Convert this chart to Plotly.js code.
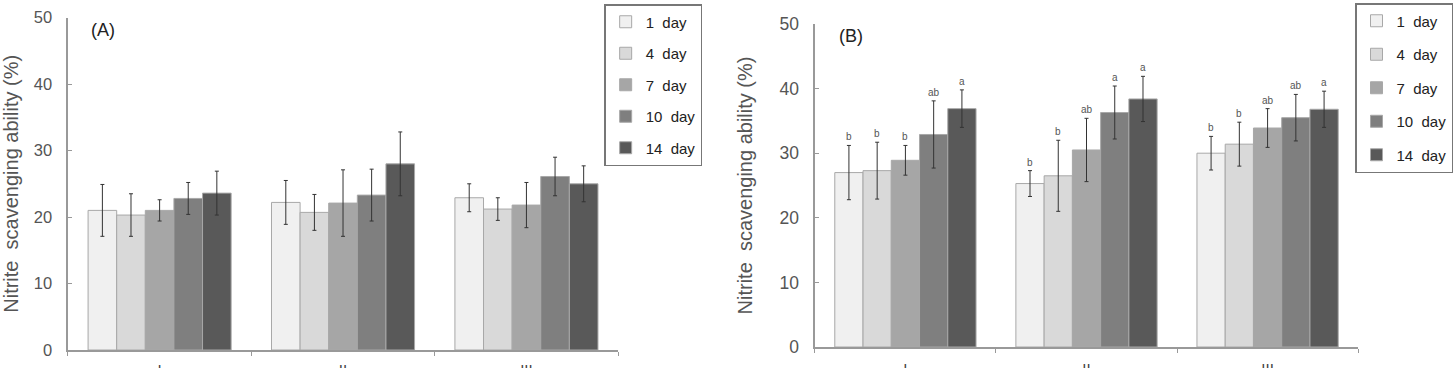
<!DOCTYPE html>
<html>
<head>
<meta charset="utf-8">
<script src="https://cdn.plot.ly/plotly-3.0.1.min.js"></script>
<style>html,body{margin:0;padding:0;background:#fff;}#chart{width:1453px;height:368px;}</style>
</head>
<body>
<div id="chart"></div>
<script>
// ---- data ----
const categories = ["I", "II", "III"];
const seriesNames = ["1  day", "4  day", "7  day", "10  day", "14  day"];
const seriesColors = ["#f0f0f0", "#d9d9d9", "#a6a6a6", "#7f7f7f", "#595959"];

// Panel (A)
const A_1day  = [21.0, 22.2, 22.9];
const A_4day  = [20.3, 20.7, 21.2];
const A_7day  = [21.0, 22.1, 21.8];
const A_10day = [22.8, 23.3, 26.1];
const A_14day = [23.6, 28.0, 25.0];
const A_err_1day  = [3.9, 3.3, 2.1];
const A_err_4day  = [3.2, 2.7, 1.7];
const A_err_7day  = [1.6, 5.0, 3.4];
const A_err_10day = [2.4, 3.9, 2.9];
const A_err_14day = [3.3, 4.8, 2.7];

// Panel (B)
const B_1day  = [27.0, 25.3, 30.0];
const B_4day  = [27.3, 26.5, 31.4];
const B_7day  = [28.9, 30.5, 33.9];
const B_10day = [32.9, 36.3, 35.5];
const B_14day = [36.9, 38.4, 36.8];
const B_err_1day  = [4.2, 2.0, 2.6];
const B_err_4day  = [4.4, 5.5, 3.4];
const B_err_7day  = [2.3, 4.9, 3.0];
const B_err_10day = [5.2, 4.1, 3.6];
const B_err_14day = [2.9, 3.5, 2.8];
const B_letters_1day  = ["b", "b", "b"];
const B_letters_4day  = ["b", "b", "b"];
const B_letters_7day  = ["b", "ab", "ab"];
const B_letters_10day = ["ab", "a", "ab"];
const B_letters_14day = ["a", "a", "a"];

const yTicks = [0, 10, 20, 30, 40, 50];

// ---- build ----
const A_vals = [A_1day, A_4day, A_7day, A_10day, A_14day];
const A_errs = [A_err_1day, A_err_4day, A_err_7day, A_err_10day, A_err_14day];
const B_vals = [B_1day, B_4day, B_7day, B_10day, B_14day];
const B_errs = [B_err_1day, B_err_4day, B_err_7day, B_err_10day, B_err_14day];
const B_letters = [B_letters_1day, B_letters_4day, B_letters_7day, B_letters_10day, B_letters_14day];

const BARGAP = 0.22;
const traces = [];
function addPanel(vals, errs, xa, ya, leg, grpPrefix) {
  vals.forEach((v, k) => {
    traces.push({
      type: "bar", x: categories, y: v, name: seriesNames[k],
      xaxis: xa, yaxis: ya, legend: leg, legendgroup: grpPrefix + k,
      marker: {color: seriesColors[k], line: {color: "#a8a8a8", width: 1}},
      error_y: {type: "data", array: errs[k], visible: true, color: "#333", thickness: 1, width: 2},
      hoverinfo: "skip"
    });
  });
}
addPanel(A_vals, A_errs, "x", "y", "legend", "a");
addPanel(B_vals, B_errs, "x2", "y2", "legend2", "b");

const fontFam = "Arial, Liberation Sans, sans-serif";
const annotations = [];
const n = seriesNames.length;
const groupW = 1 - BARGAP;
B_vals.forEach((v, k) => {
  v.forEach((val, i) => {
    annotations.push({
      xref: "x2", yref: "y2",
      x: i - groupW / 2 + (k + 0.5) * groupW / n,
      y: val + B_errs[k][i],
      text: B_letters[k][i], showarrow: false, yanchor: "bottom", yshift: 1,
      font: {family: fontFam, size: 10, color: "#555"}
    });
  });
});
annotations.push({xref: "paper", yref: "paper", x: 89 / 1453, y: 1 - 30 / 368, xanchor: "left", yanchor: "middle",
  text: "(A)", showarrow: false, font: {family: fontFam, size: 18, color: "#222"}});
annotations.push({xref: "paper", yref: "paper", x: 838 / 1453, y: 1 - 36 / 368, xanchor: "left", yanchor: "middle",
  text: "(B)", showarrow: false, font: {family: fontFam, size: 18, color: "#222"}});

function xAxis(domain, anchor, standoff) {
  return {
    domain: domain, anchor: anchor, type: "category",
    showline: true, linecolor: "#999", linewidth: 1.5, showgrid: false, zeroline: false,
    ticks: "outside", tickson: "boundaries", ticklen: 4, tickcolor: "#999",
    tickfont: {family: fontFam, size: 15, color: "#444"}, ticklabelstandoff: standoff,
    fixedrange: true
  };
}
function yAxis(domain, anchor, fs, tstand) {
  return {
    domain: domain, anchor: anchor, range: [0, 50], tickvals: yTicks,
    showline: true, linecolor: "#999", linewidth: 1.5, showgrid: false, zeroline: false,
    ticks: "inside", ticklen: 4, tickcolor: "#999", ticklabelstandoff: 11,
    tickfont: {family: fontFam, size: fs, color: "#555"},
    title: {text: "Nitrite  scavenging ability (%)", font: {family: fontFam, size: 20, color: "#555"}, standoff: tstand},
    fixedrange: true
  };
}

const legendBase = {
  bgcolor: "#fff", bordercolor: "#777", borderwidth: 1.5,
  font: {family: fontFam, size: 15, color: "#222"},
  traceorder: "grouped", itemwidth: 30,
  xanchor: "left", yanchor: "top"
};

const layout = {
  width: 1453, height: 368,
  margin: {l: 0, r: 0, t: 0, b: 0},
  paper_bgcolor: "#fff", plot_bgcolor: "#fff",
  barmode: "group", bargap: BARGAP, bargroupgap: 0,
  xaxis: xAxis([68 / 1453, 619 / 1453], "y", 5),
  yaxis: yAxis([1 - 350 / 368, 1 - 17.6 / 368], "x", 16.5, 26),
  xaxis2: xAxis([816 / 1453, 1360 / 1453], "y2", 7),
  yaxis2: yAxis([1 - 347 / 368, 1 - 24 / 368], "x2", 17.5, 21),
  legend: Object.assign({}, legendBase, {x: 605 / 1453, y: 1 - 4 / 368, tracegroupgap: 9}),
  legend2: Object.assign({}, legendBase, {x: 1357 / 1453, y: 1 - 3 / 368, tracegroupgap: 11}),
  annotations: annotations,
  showlegend: true
};

Plotly.newPlot("chart", traces, layout, {displayModeBar: false, staticPlot: true});
</script>
</body>
</html>
